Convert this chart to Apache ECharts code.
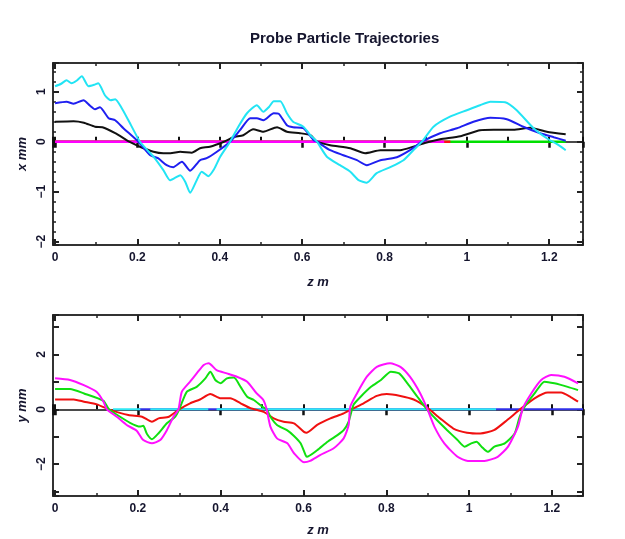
<!DOCTYPE html>
<html>
<head>
<meta charset="utf-8">
<script src="https://cdn.jsdelivr.net/npm/echarts@6/dist/echarts.min.js"></script>
<style>
html,body{margin:0;padding:0;background:#fff;}
#chart{width:625px;height:539px;}
</style>
</head>
<body>
<div id="chart"></div>
<script>
// x plane: x(z) of three particles
var xCyan = [[0,1.11],[0.015,1.16],[0.028,1.23],[0.04,1.17],[0.052,1.22],[0.065,1.31],[0.081,1.11],[0.095,1.14],[0.105,1.17],[0.121,0.93],[0.135,0.83],[0.146,0.85],[0.16,0.7],[0.18,0.4],[0.206,0],[0.222,-0.15],[0.239,-0.3],[0.263,-0.57],[0.279,-0.77],[0.292,-0.72],[0.304,-0.67],[0.316,-0.8],[0.328,-1.02],[0.344,-0.77],[0.356,-0.6],[0.372,-0.69],[0.386,-0.55],[0.401,-0.3],[0.425,0],[0.445,0.3],[0.466,0.57],[0.49,0.73],[0.506,0.6],[0.52,0.7],[0.531,0.81],[0.547,0.81],[0.563,0.57],[0.578,0.4],[0.603,0.3],[0.62,0.13],[0.636,0],[0.66,-0.3],[0.692,-0.47],[0.717,-0.6],[0.737,-0.77],[0.757,-0.82],[0.781,-0.63],[0.814,-0.51],[0.846,-0.37],[0.87,-0.17],[0.891,0],[0.919,0.3],[0.959,0.5],[1.0,0.63],[1.032,0.73],[1.057,0.8],[1.093,0.79],[1.121,0.63],[1.162,0.27],[1.194,0.07],[1.219,-0.05],[1.24,-0.17]];
var xBlue = [[0,0.77],[0.028,0.8],[0.045,0.76],[0.069,0.83],[0.085,0.72],[0.097,0.65],[0.109,0.69],[0.13,0.47],[0.146,0.43],[0.166,0.27],[0.202,0],[0.231,-0.27],[0.25,-0.33],[0.271,-0.47],[0.287,-0.51],[0.308,-0.4],[0.328,-0.58],[0.352,-0.37],[0.368,-0.33],[0.393,-0.2],[0.425,0],[0.449,0.23],[0.474,0.47],[0.49,0.47],[0.506,0.43],[0.531,0.57],[0.543,0.56],[0.563,0.33],[0.578,0.29],[0.603,0.27],[0.628,0.03],[0.636,0],[0.668,-0.17],[0.7,-0.27],[0.733,-0.37],[0.757,-0.47],[0.79,-0.37],[0.83,-0.31],[0.862,-0.17],[0.891,0],[0.935,0.17],[0.976,0.27],[1.016,0.4],[1.057,0.48],[1.097,0.45],[1.137,0.3],[1.178,0.17],[1.211,0.09],[1.24,0.02]];
var xBlack = [[0,0.4],[0.045,0.41],[0.07,0.38],[0.097,0.3],[0.115,0.29],[0.146,0.17],[0.17,0.05],[0.18,0],[0.206,-0.1],[0.239,-0.2],[0.263,-0.23],[0.28,-0.23],[0.304,-0.2],[0.332,-0.22],[0.352,-0.13],[0.376,-0.1],[0.41,0],[0.433,0.09],[0.457,0.13],[0.481,0.25],[0.506,0.2],[0.539,0.29],[0.563,0.2],[0.595,0.17],[0.62,0.13],[0.636,0],[0.668,-0.07],[0.717,-0.13],[0.753,-0.23],[0.79,-0.17],[0.838,-0.17],[0.87,-0.1],[0.9,-0.02],[0.935,0.05],[0.984,0.11],[1.032,0.23],[1.065,0.24],[1.113,0.24],[1.154,0.28],[1.194,0.2],[1.24,0.15]];
// y plane particles sit on x = 0
var xZeroGreen = [[0,0],[1.24,0]];
var xZeroRed = [[0,0],[0.96,0]];
var xZeroMagenta = [[0,0],[0.945,0]];

// y plane: y(z) of three particles
var yMagenta = [[0,1.13],[0.036,1.07],[0.068,0.89],[0.1,0.64],[0.117,0.28],[0.125,0],[0.149,-0.27],[0.173,-0.57],[0.197,-0.78],[0.213,-1.12],[0.234,-1.24],[0.254,-1.12],[0.27,-0.76],[0.286,-0.27],[0.298,0],[0.306,0.64],[0.326,1.01],[0.342,1.31],[0.359,1.62],[0.371,1.68],[0.39,1.43],[0.415,1.31],[0.439,1.19],[0.464,1.01],[0.487,0.58],[0.503,0.34],[0.511,0],[0.52,-0.63],[0.536,-1.06],[0.561,-1.24],[0.577,-1.6],[0.601,-1.93],[0.616,-1.88],[0.64,-1.67],[0.673,-1.42],[0.697,-1.06],[0.709,-0.57],[0.713,0.1],[0.729,0.58],[0.753,1.19],[0.777,1.55],[0.809,1.68],[0.834,1.55],[0.857,1.19],[0.882,0.58],[0.898,0.05],[0.916,-0.63],[0.94,-1.24],[0.972,-1.73],[0.997,-1.88],[1.037,-1.88],[1.069,-1.73],[1.094,-1.36],[1.118,-0.63],[1.13,0.05],[1.15,0.58],[1.174,1.07],[1.198,1.25],[1.23,1.19],[1.263,0.95]];
var yGreen = [[0,0.74],[0.036,0.74],[0.07,0.58],[0.117,0.31],[0.13,0],[0.157,-0.27],[0.181,-0.49],[0.205,-0.63],[0.213,-0.6],[0.222,-0.9],[0.234,-1.09],[0.25,-0.87],[0.27,-0.51],[0.29,-0.27],[0.3,0],[0.318,0.64],[0.342,0.82],[0.363,1.13],[0.375,1.37],[0.387,1.07],[0.4,0.95],[0.415,1.13],[0.432,1.16],[0.448,0.82],[0.464,0.46],[0.48,0.34],[0.5,0.1],[0.511,0],[0.52,-0.27],[0.536,-0.57],[0.56,-0.76],[0.577,-0.97],[0.593,-1.24],[0.605,-1.67],[0.608,-1.73],[0.633,-1.49],[0.658,-1.18],[0.682,-0.94],[0.697,-0.76],[0.709,-0.45],[0.721,0.17],[0.738,0.46],[0.763,0.82],[0.787,1.07],[0.811,1.37],[0.831,1.31],[0.851,0.95],[0.875,0.46],[0.898,0],[0.922,-0.39],[0.947,-0.76],[0.972,-1.12],[0.989,-1.36],[1.005,-1.24],[1.018,-1.18],[1.03,-1.36],[1.045,-1.55],[1.061,-1.36],[1.086,-1.24],[1.11,-0.88],[1.122,-0.27],[1.134,0.1],[1.158,0.58],[1.182,1.01],[1.206,0.95],[1.238,0.82],[1.263,0.7]];
var yRed = [[0,0.36],[0.045,0.36],[0.07,0.28],[0.101,0.18],[0.13,0],[0.177,-0.21],[0.21,-0.27],[0.234,-0.45],[0.25,-0.33],[0.275,-0.27],[0.3,0],[0.326,0.22],[0.35,0.36],[0.375,0.56],[0.4,0.4],[0.423,0.4],[0.448,0.22],[0.472,0.04],[0.504,-0.09],[0.528,-0.33],[0.552,-0.45],[0.577,-0.51],[0.601,-0.82],[0.608,-0.85],[0.633,-0.57],[0.665,-0.33],[0.697,-0.15],[0.721,0.04],[0.745,0.22],[0.777,0.49],[0.801,0.56],[0.834,0.49],[0.866,0.36],[0.898,0.07],[0.93,-0.33],[0.962,-0.7],[0.995,-0.85],[1.027,-0.88],[1.06,-0.76],[1.092,-0.39],[1.124,0.01],[1.158,0.4],[1.19,0.61],[1.222,0.61],[1.246,0.44],[1.263,0.28]];
// x plane particles sit on y = 0
var yZeroBlue = [[0.2,0],[1.275,0]];
var yZeroCyan = [[0.14,0],[0.206,0],[0.23,'-'],[0.23,0],[0.37,0],[0.39,'-'],[0.39,0],[1.065,0]];

var txt = '#15152e';
function fmtNum(v) {
    return String(Math.round(v * 10) / 10).replace('-', '\u2212');
}

function xAxesFor(grid, min, max, yIdx, gap) {
    var base = {type: 'value', gridIndex: grid, min: min, max: max, splitLine: {show: false}};
    var major = {minInterval: 0.2, maxInterval: 0.2};
    var minor = {minInterval: 0.1, maxInterval: 0.1};
    return [
        Object.assign({}, base, major, {
            position: 'bottom',
            name: 'z m', nameLocation: 'middle', nameGap: gap, nameMoveOverlap: false,
            nameTextStyle: {color: txt, fontStyle: 'italic', fontWeight: 'bold', fontSize: 13, fontFamily: 'Arial'},
            axisLine: {onZero: false, lineStyle: {color: '#333', width: 2}},
            axisTick: {inside: true, length: 6, lineStyle: {color: '#222', width: 2}},
            axisLabel: {margin: 7, color: txt, fontWeight: 'bold', fontSize: 12, fontFamily: 'Arial',
                formatter: function (v) { return Math.abs(v / 0.2 - Math.round(v / 0.2)) < 1e-6 ? fmtNum(v) : ''; }}
        }),
        Object.assign({}, base, major, {
            position: 'top',
            axisLine: {onZero: false, lineStyle: {color: '#333', width: 2}},
            axisTick: {inside: true, length: 6, lineStyle: {color: '#222', width: 2}},
            axisLabel: {show: false}
        }),
        Object.assign({}, base, minor, {
            position: 'bottom',
            axisLine: {show: false, onZero: false},
            axisTick: {inside: true, length: 3, lineStyle: {color: '#222', width: 1.5}},
            axisLabel: {show: false}
        }),
        Object.assign({}, base, minor, {
            position: 'top',
            axisLine: {show: false, onZero: false},
            axisTick: {inside: true, length: 3, lineStyle: {color: '#222', width: 1.5}},
            axisLabel: {show: false}
        }),
        // zero line with ticks through the middle of the plot
        Object.assign({}, base, minor, {
            position: 'bottom',
            axisLine: {onZero: true, onZeroAxisIndex: yIdx, lineStyle: {color: '#111', width: 1.5}},
            axisTick: {inside: true, length: 5, lineStyle: {color: '#111', width: 2}},
            axisLabel: {show: false}
        }),
        Object.assign({}, base, major, {
            position: 'top',
            axisLine: {show: false, onZero: true, onZeroAxisIndex: yIdx},
            axisTick: {inside: true, length: 6, lineStyle: {color: '#111', width: 2.5}},
            axisLabel: {show: false}
        })
    ];
}

function yAxis(grid, min, max, pos, step, opts) {
    return Object.assign({
        type: 'value', gridIndex: grid, min: min, max: max, position: pos,
        minInterval: step, maxInterval: step,
        splitLine: {show: false},
        axisLine: {onZero: false, lineStyle: {color: '#333', width: 2}},
        axisTick: {inside: true, length: 6, lineStyle: {color: '#222', width: 2}},
        axisLabel: {show: false}
    }, opts || {});
}

function yLabel(every) {
    return {
        rotate: 90, margin: 5, color: txt, fontWeight: 'bold', fontSize: 12, fontFamily: 'Arial',
        formatter: function (v) { return Math.abs(v / every - Math.round(v / every)) < 1e-6 ? fmtNum(v) : ''; }
    };
}
function yName(n) {
    return {name: n, nameLocation: 'middle', nameGap: 24, nameMoveOverlap: false,
        nameTextStyle: {color: txt, fontStyle: 'italic', fontWeight: 'bold', fontSize: 13, fontFamily: 'Arial'}};
}

var chart = echarts.init(document.getElementById('chart'));

var xAxes = xAxesFor(0, -0.005, 1.282, 0, 31).concat(xAxesFor(1, -0.005, 1.275, 4, 28));
var yAxes = [
    yAxis(0, -2.067, 1.575, 'left', 1, Object.assign({axisLabel: yLabel(1)}, yName('x mm'))),
    yAxis(0, -2.067, 1.575, 'right', 1),
    yAxis(0, -2.067, 1.575, 'left', 0.2, {axisLine: {show: false, onZero: false}, axisTick: {inside: true, length: 3, lineStyle: {color: '#222', width: 1.5}}}),
    yAxis(0, -2.067, 1.575, 'right', 0.2, {axisLine: {show: false, onZero: false}, axisTick: {inside: true, length: 3, lineStyle: {color: '#222', width: 1.5}}}),
    yAxis(1, -3.16, 3.44, 'left', 1, Object.assign({axisLabel: yLabel(2)}, yName('y mm'))),
    yAxis(1, -3.16, 3.44, 'right', 1)
];

function line(data, color, xi, yi, w, sm) {
    return {
        type: 'line', data: data, xAxisIndex: xi, yAxisIndex: yi,
        showSymbol: false, symbol: 'none', connectNulls: false,
        smooth: sm || false,
        lineStyle: {color: color, width: w || 2},
        silent: true
    };
}

var option = {
    animation: false,
    backgroundColor: '#fff',
    title: {
        text: 'Probe Particle Trajectories',
        left: 245, top: 26,
        textStyle: {color: txt, fontWeight: 'bold', fontSize: 15, fontFamily: 'Arial'}
    },
    grid: [
        {left: 53, top: 63, width: 530, height: 182, containLabel: false},
        {left: 53, top: 315, width: 530, height: 181, containLabel: false}
    ],
    xAxis: xAxes,
    yAxis: yAxes,
    series: [
        line(xZeroGreen, '#00e000', 0, 0, 2.5),
        line(xZeroRed, '#ff1010', 0, 0, 2.5),
        line(xZeroMagenta, '#ff00ff', 0, 0, 2.5),
        line(xBlack, '#111111', 0, 0, 2, 0.2),
        line(xBlue, '#1f1ff0', 0, 0, 2, 0.2),
        line(xCyan, '#22e4f4', 0, 0, 2, 0.2),
        line(yZeroBlue, '#3030e8', 6, 4, 2),
        line(yZeroCyan, '#30e8f4', 6, 4, 2),
        line(yRed, '#f01010', 6, 4, 2, 0.2),
        line(yGreen, '#10e010', 6, 4, 2, 0.2),
        line(yMagenta, '#ff10ff', 6, 4, 2, 0.2)
    ]
};
chart.setOption(option);
</script>
</body>
</html>
